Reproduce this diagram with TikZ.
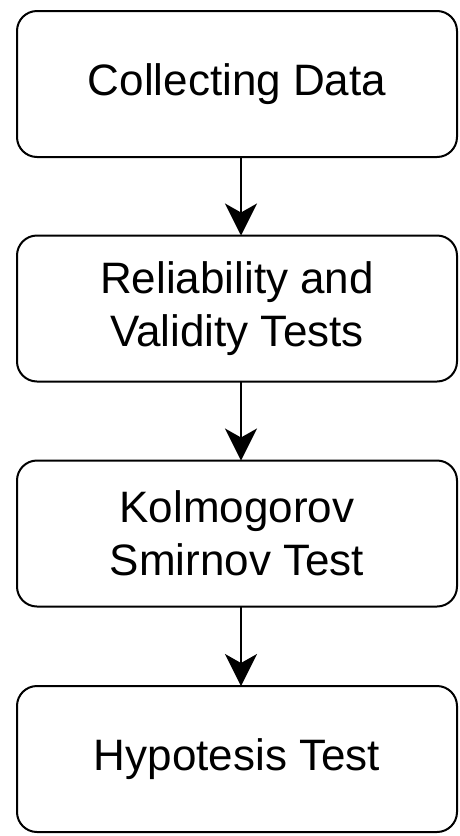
\documentclass[tikz,border=0pt]{standalone}
\usepackage{fontspec}
\setmainfont{Liberation Sans}
\usetikzlibrary{arrows.meta}
\begin{document}
\begin{tikzpicture}[x=1pt,y=1pt,
  box/.style={draw=black, line width=2pt, rounded corners=20pt, fill=white,
    minimum width=440pt, minimum height=146pt, inner sep=0pt, outer sep=0pt,
    align=center, font=\fontsize{44}{53}\selectfont},
  conn/.style={line width=2pt, -{Stealth[length=32pt,width=32pt,inset=9pt]}}]
\useasboundingbox (0,0) rectangle (460,-836);
\node[box] (a) at (237,-84) {Collecting Data};
\node[box] (b) at (237,-308.5) {Reliability and\\Validity Tests};
\node[box] (c) at (237,-533.5) {Kolmogorov\\Smirnov Test};
\node[box] (d) at (237,-759) {Hypotesis Test};
\draw[conn] (a.south -| 241,0) -- (b.north -| 241,0);
\draw[conn] (b.south -| 241,0) -- (c.north -| 241,0);
\draw[conn] (c.south -| 241,0) -- (d.north -| 241,0);
\end{tikzpicture}
\end{document}
